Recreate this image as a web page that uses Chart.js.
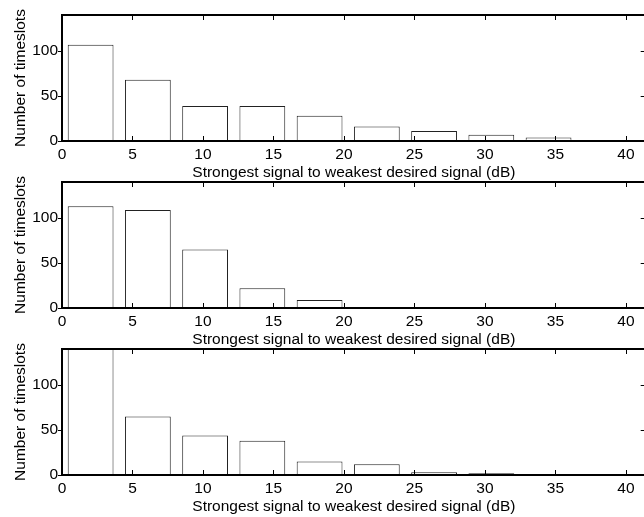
<!DOCTYPE html>
<html>
<head>
<meta charset="utf-8">
<script src="https://cdn.jsdelivr.net/npm/chart.js@4.4.1/dist/chart.umd.min.js"></script>
<style>
  html, body { margin: 0; padding: 0; background: #fff; overflow: hidden; }
  body { width: 644px; height: 517px; position: relative; }
  canvas { position: absolute; left: 0; }
</style>
</head>
<body>
<canvas id="h1" width="660" height="182" style="top:0px"></canvas>
<canvas id="h2" width="660" height="182" style="top:167px"></canvas>
<canvas id="h3" width="660" height="182" style="top:334px"></canvas>
<script>
// ===== histogram data =====
// centres of the 10 bins (dB)
const binCentres = [2.03, 6.09, 10.15, 14.21, 18.27, 22.33, 26.39, 30.45, 34.51, 38.57];
const xTicks = [0, 5, 10, 15, 20, 25, 30, 35, 40];
const yTicks = [0, 50, 100];

// timeslot counts per bin, one array per subplot
const countsTop = [107, 68, 39, 39, 28, 16, 11, 7, 4, 1];
const countsMid = [113, 109, 65, 22, 9, 1, 1, 0, 0, 0];
const countsBot = [141, 65, 44, 38, 15, 12, 3, 2, 0, 1];

const xTitle = "Strongest signal to weakest desired signal (dB)";
const yTitle = "Number of timeslots";

const font = { family: "'Liberation Sans', Arial, Helvetica, sans-serif", size: 15.5 };

// ===== axes box with inward ticks (matlab look) =====
const boxPlugin = {
    id: "boxPlugin",
    afterDatasetsDraw(chart) {
        const { ctx, chartArea: a, scales: { x, y } } = chart;
        ctx.save();
        ctx.strokeStyle = "#000";
        ctx.lineWidth = 1;
        ctx.beginPath();
        xTicks.forEach(v => {
            const px = Math.round(x.getPixelForValue(v)) + 0.5;
            ctx.moveTo(px, a.top); ctx.lineTo(px, a.top + 5);
            ctx.moveTo(px, a.bottom); ctx.lineTo(px, a.bottom - 5);
        });
        yTicks.forEach(v => {
            const py = Math.round(y.getPixelForValue(v)) + 0.5;
            ctx.moveTo(a.left - 4, py); ctx.lineTo(a.left, py);
            ctx.moveTo(a.right, py); ctx.lineTo(a.right - 5, py);
        });
        ctx.stroke();
        ctx.lineWidth = 2;
        ctx.strokeRect(a.left, a.top, a.right - a.left, a.bottom - a.top);
        ctx.restore();
    }
};

function makeHist(id, counts) {
    const ctx = document.getElementById(id).getContext("2d");
    return new Chart(ctx, {
        type: "bar",
        data: {
            datasets: [{
                data: binCentres.map((c, i) => ({ x: c, y: counts[i] })),
                backgroundColor: "#ffffff",
                borderColor: "#222222",
                borderWidth: 1,
                barPercentage: 0.8,
                categoryPercentage: 1,
                clip: 0
            }]
        },
        options: {
            responsive: false,
            animation: false,
            events: [],
            layout: { padding: { top: 15, right: 14.3, left: 0, bottom: 0 } },
            plugins: { legend: { display: false }, tooltip: { enabled: false } },
            scales: {
                x: {
                    type: "linear",
                    min: 0,
                    max: 41.4,
                    offset: false,
                    grid: { display: false, drawTicks: false },
                    border: { display: false },
                    afterBuildTicks: s => { s.ticks = xTicks.map(v => ({ value: v })); },
                    afterFit: s => { s.height = 41; },
                    ticks: { color: "#000", font, padding: 4, maxRotation: 0, autoSkip: false },
                    title: { display: true, text: xTitle, color: "#000", font, padding: { top: 0, bottom: 0 } }
                },
                y: {
                    min: 0,
                    max: 140,
                    grid: { display: false, drawTicks: false },
                    border: { display: false },
                    afterBuildTicks: s => { s.ticks = yTicks.map(v => ({ value: v })); },
                    afterFit: s => { s.width = 62; },
                    ticks: { color: "#000", font, padding: 4 },
                    title: { display: true, text: yTitle, color: "#000", font, padding: { top: 11, bottom: 0 } }
                }
            }
        },
        plugins: [boxPlugin]
    });
}

makeHist("h1", countsTop);
makeHist("h2", countsMid);
makeHist("h3", countsBot);
</script>
</body>
</html>
